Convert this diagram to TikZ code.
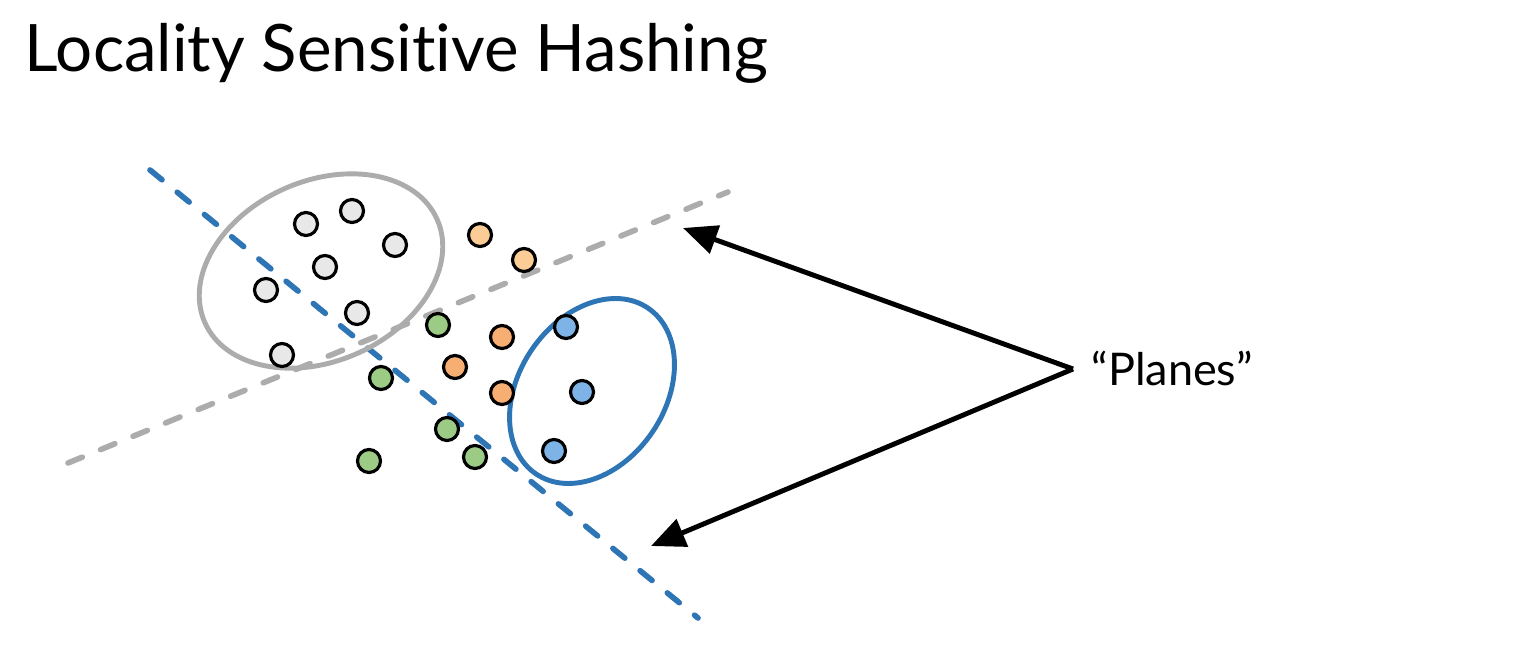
\documentclass[tikz,border=0pt]{standalone}
\usepackage{fontspec}
\setmainfont{Lato}[Ligatures=NoCommon]
\usetikzlibrary{arrows.meta}
\definecolor{lshblue}{RGB}{46,117,182}
\definecolor{lshgray}{RGB}{172,172,172}
\definecolor{ptgray}{RGB}{232,232,232}
\definecolor{ptorange}{RGB}{247,174,114}
\definecolor{ptpale}{RGB}{252,204,150}
\definecolor{ptgreen}{RGB}{155,203,132}
\definecolor{ptblue}{RGB}{125,179,230}
\tikzset{
  pt/.style={circle, draw=black, line width=0.9pt, minimum size=0.23cm, inner sep=0pt},
  plane/.style={line width=1.6pt, dash pattern=on 4.4pt off 5.6pt, line cap=round},
  bucket/.style={line width=1.4pt}
}
\begin{document}
\begin{tikzpicture}[x=0.01cm, y=-0.01cm, >={Triangle[length=0.34cm,width=0.29cm]}]
\useasboundingbox (0,0) rectangle (1522,655);

\node[anchor=base west, inner sep=0, font=\fontsize{18.6}{22}\selectfont] (title) at (24,72) {Locality Sensitive Hashing};

% the two planes
\coordinate (gA) at (68,463);
\coordinate (gB) at (728,192);
\coordinate (bA) at (150,170);
\coordinate (bB) at (698,618);
\draw[plane, lshgray] (gA)--(gB);
\draw[plane, lshblue] (bA)--(bB);

% buckets
\draw[bucket, lshgray] (321,271) ellipse [x radius=1.27cm, y radius=0.90cm, rotate=24];
\draw[bucket, lshblue] (592,391) ellipse [x radius=1.0cm, y radius=0.73cm, rotate=56];

% points
\foreach \x/\y [count=\i] in {306/224,352/211,395/245,325/267,266/290,357/313,282/355}
{
    \node[pt, fill=ptgray] (g\i) at (\x,\y) {};
}
\foreach \x/\y [count=\i] in {480/235,524/260}
{
    \node[pt, fill=ptpale] (p\i) at (\x,\y) {};
}
\foreach \x/\y [count=\i] in {502/337,455/367,502/393}
{
    \node[pt, fill=ptorange] (o\i) at (\x,\y) {};
}
\foreach \x/\y [count=\i] in {438/325,381/378,447/429,475/457,369/461}
{
    \node[pt, fill=ptgreen] (e\i) at (\x,\y) {};
}
\foreach \x/\y [count=\i] in {566/327,582/392,554/451}
{
    \node[pt, fill=ptblue] (b\i) at (\x,\y) {};
}

% label and arrows
\node[anchor=base west, inner sep=0, font=\fontsize{12.8}{15}\selectfont] (planes) at (1091,385) {“Planes”};
\coordinate (fork) at (1073,369);
\coordinate (tipA) at (683,228);
\coordinate (tipB) at (651,546);
\draw[->, line width=1.4pt] (fork)--(tipA);
\draw[->, line width=1.4pt] (fork)--(tipB);
\end{tikzpicture}
\end{document}
